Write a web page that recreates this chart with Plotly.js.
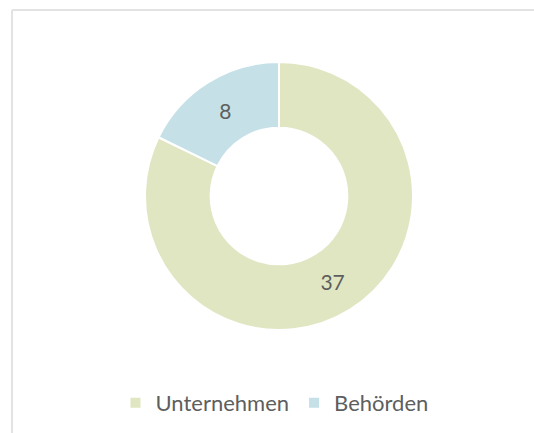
<!DOCTYPE html>
<html>
<head>
<meta charset="utf-8">
<script src="https://cdn.plot.ly/plotly-3.0.1.min.js"></script>
<style>html,body{margin:0;padding:0;background:#fff;}#chart{width:534px;height:433px;}</style>
</head>
<body>
<div id="chart"></div>
<script>
const categories = ["Unternehmen", "Behörden"];
const values = [37, 8];
const colors = ["#e0e6c2", "#c5e1e7"];

const W = 534, H = 433;
const cx = 279, cy = 196, R = 134;

const data = [{
  type: "pie",
  labels: categories,
  values: values,
  hole: 0.51,
  sort: false,
  direction: "clockwise",
  rotation: 0,
  marker: {colors: colors, line: {color: "#ffffff", width: 2}},
  textinfo: "value",
  textposition: "inside",
  insidetextorientation: "horizontal",
  textfont: {family: "Lato, sans-serif", size: 21, color: "#5e5e5e"},
  hoverinfo: "label+value",
  domain: {x: [(cx - R) / W, (cx + R) / W], y: [1 - (cy + R) / H, 1 - (cy - R) / H]}
}];

const layout = {
  width: W, height: H,
  margin: {l: 0, r: 0, t: 0, b: 0},
  paper_bgcolor: "#ffffff",
  showlegend: true,
  legend: {
    orientation: "h", x: 0.514, xanchor: "center", y: 1 - 403 / H, yanchor: "middle",
    font: {family: "Lato, sans-serif", size: 22, color: "#5e5e5e"},
    itemwidth: 30, traceorder: "normal"
  },
  shapes: [
    {type: "line", xref: "paper", yref: "paper", x0: 12 / W, x1: 1.01, y0: 1 - 10 / H, y1: 1 - 10 / H, line: {color: "#e3e3e3", width: 2}},
    {type: "line", xref: "paper", yref: "paper", x0: 12 / W, x1: 12 / W, y0: 1 - 10 / H, y1: -0.01, line: {color: "#e3e3e3", width: 2}}
  ]
};

Plotly.newPlot("chart", data, layout, {displayModeBar: false, staticPlot: true});
</script>
</body>
</html>
